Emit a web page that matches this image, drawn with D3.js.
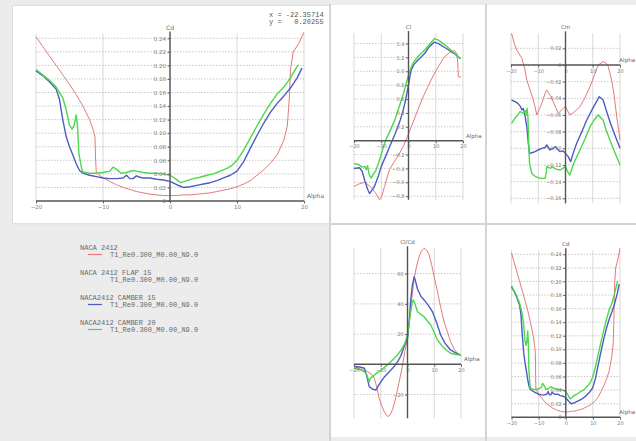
<!DOCTYPE html>
<html>
<head>
<meta charset="utf-8">
<script src="https://cdn.jsdelivr.net/npm/d3@7"></script>
<style>
  body { margin: 0; background: #ececec; }
  svg { display: block; }
</style>
</head>
<body>
<div id="chart"></div>
<script>
// alpha ticks shared by every graph
var alphaTicks = [-20, -10, 0, 10, 20];

// Legend
var polarNames = ["NACA 2412", "NACA 2412 FLAP 15", "NACA2412 CAMBER 15", "NACA2412 CAMBER 20"];
var polarSub = "T1_Re0.300_M0.00_N9.0";
var polarColors = ["#e47a7a", null, "#4e5cc2", "#4cd84c"];

// Cd vs alpha  [alpha, Cd]
var cdRed = [[-20,0.242],[-19,0.228],[-18,0.214],[-17,0.200],[-16,0.186],[-15,0.172],[-14,0.157],[-13,0.140],[-12,0.120],[-11.5,0.106],[-11.2,0.095],[-11.1,0.060],[-11,0.042],[-10,0.034],[-9,0.029],[-8,0.024],[-7,0.020],[-6,0.017],[-5,0.014],[-4,0.012],[-3,0.010],[-2,0.009],[-1,0.008],[0,0.008],[1,0.008],[2,0.009],[3,0.009],[4,0.010],[5,0.011],[6,0.012],[7,0.014],[8,0.016],[9,0.018],[10,0.021],[11,0.025],[12,0.030],[13,0.038],[14,0.046],[15,0.056],[16,0.068],[17,0.090],[17.5,0.110],[17.8,0.150],[18,0.195],[18.4,0.220],[19.2,0.232],[20,0.249]];
var cdBlue = [[-20,0.192],[-19,0.185],[-18,0.176],[-17,0.165],[-16.5,0.150],[-16,0.120],[-15.5,0.095],[-15,0.080],[-14.5,0.068],[-14,0.055],[-13.5,0.045],[-13,0.041],[-12,0.038],[-11,0.036],[-10,0.034],[-9,0.033],[-8,0.033],[-7,0.034],[-6.5,0.038],[-6,0.033],[-5.5,0.033],[-5,0.037],[-4.5,0.035],[-4,0.034],[-3,0.034],[-2,0.032],[-1,0.031],[0,0.029],[1,0.024],[2,0.020],[3,0.021],[4,0.023],[5,0.025],[6,0.027],[7,0.030],[8,0.034],[9,0.038],[10,0.044],[11,0.058],[12,0.078],[13,0.097],[14,0.115],[15,0.131],[16,0.144],[17,0.155],[18,0.167],[19,0.182],[19.7,0.196]];
var cdGreen = [[-20,0.194],[-19,0.186],[-18,0.178],[-17,0.168],[-16.5,0.160],[-16,0.152],[-15.5,0.135],[-15,0.112],[-14.6,0.106],[-14.3,0.112],[-14,0.127],[-13.8,0.110],[-13.6,0.070],[-13.2,0.048],[-13,0.043],[-12,0.041],[-11,0.041],[-10,0.042],[-9,0.044],[-8.5,0.050],[-8,0.047],[-7.3,0.041],[-6.5,0.042],[-5.5,0.045],[-5,0.044],[-4,0.042],[-3,0.041],[-2,0.041],[-1,0.040],[0,0.038],[0.8,0.033],[1.6,0.027],[2.5,0.030],[3.5,0.033],[4.5,0.035],[5.5,0.038],[6.5,0.040],[7.5,0.044],[8.5,0.048],[9.3,0.053],[10,0.060],[11,0.075],[12,0.093],[13,0.111],[14,0.128],[15,0.144],[16,0.158],[17,0.168],[18,0.182],[19,0.199],[19.2,0.201]];

// Cl vs alpha
var clRed = [[-20,-0.66],[-18,-0.62],[-16,-0.60],[-14,-0.66],[-12,-0.76],[-10.6,-0.85],[-9.8,-0.80],[-8.8,-0.66],[-7,-0.42],[-5.5,-0.32],[-4,-0.23],[-2,-0.09],[0,0.10],[2,0.30],[3.4,0.44],[5,0.60],[7,0.77],[9,0.93],[11,1.07],[13,1.20],[15,1.27],[16.9,1.30],[17.8,1.25],[18.1,1.10],[18.3,0.92],[19.3,0.92]];
var clBlue = [[-20,-0.40],[-18,-0.39],[-17,-0.44],[-16,-0.58],[-15,-0.70],[-14.3,-0.76],[-13.5,-0.72],[-12.5,-0.66],[-11,-0.50],[-10,-0.37],[-9,-0.28],[-8,-0.19],[-7,-0.09],[-6,0.00],[-5,0.09],[-4,0.19],[-3,0.30],[-2,0.43],[-1,0.60],[0,0.80],[0.5,0.92],[1,1.02],[2,1.10],[3.4,1.16],[5,1.22],[6,1.26],[7,1.32],[8,1.37],[9.5,1.42],[11,1.40],[13,1.35],[15,1.30],[17,1.25],[19.1,1.18]];
var clGreen = [[-20,-0.33],[-18.5,-0.34],[-17,-0.38],[-16,-0.37],[-15.5,-0.42],[-15,-0.36],[-14.5,-0.48],[-13.7,-0.54],[-13,-0.49],[-12,-0.43],[-11,-0.32],[-10,-0.20],[-9,-0.06],[-8,0.04],[-7,0.12],[-6,0.21],[-5,0.30],[-4,0.42],[-3,0.54],[-2,0.66],[-1,0.80],[0,0.95],[1,1.06],[2,1.14],[3.4,1.21],[5,1.27],[6,1.31],[7.5,1.38],[9.5,1.47],[11,1.45],[12,1.42],[14,1.36],[15.7,1.30],[17,1.26],[19.1,1.18]];

// Cm vs alpha
var cmRed = [[-19.8,0.038],[-18.8,0.026],[-17.9,0.018],[-16,0.008],[-15,-0.004],[-14.2,-0.018],[-13,-0.030],[-11.8,-0.042],[-10.5,-0.060],[-9.5,-0.052],[-8.7,-0.046],[-7.5,-0.034],[-6.9,-0.030],[-5,-0.040],[-3.5,-0.052],[-2.6,-0.058],[-1.5,-0.054],[-0.8,-0.052],[0,-0.050],[0.8,-0.055],[1.6,-0.060],[3,-0.057],[5.3,-0.050],[7,-0.040],[9,-0.026],[10.5,-0.013],[12,0.000],[13.8,0.004],[15,0.002],[15.7,-0.002],[16.9,-0.018],[17.8,-0.035],[18.8,-0.062],[20,-0.090]];
var cmBlue = [[-19.8,-0.042],[-18.5,-0.044],[-17.5,-0.046],[-16.5,-0.050],[-16,-0.054],[-15.5,-0.052],[-15,-0.058],[-14.2,-0.074],[-13.6,-0.095],[-13.2,-0.106],[-12,-0.105],[-11.2,-0.104],[-10,-0.102],[-8.7,-0.100],[-7.5,-0.099],[-6.9,-0.096],[-5.7,-0.102],[-4.5,-0.100],[-3.8,-0.098],[-2,-0.104],[-1,-0.103],[0,-0.106],[1,-0.110],[1.9,-0.116],[3,-0.104],[4.1,-0.094],[6,-0.080],[7.8,-0.066],[10,-0.052],[12.4,-0.038],[13.8,-0.042],[15,-0.055],[16.5,-0.070],[18,-0.083],[20,-0.100]];
var cmGreen = [[-19.8,-0.070],[-18.6,-0.064],[-17.5,-0.060],[-16.7,-0.056],[-15.5,-0.058],[-14.6,-0.055],[-14.3,-0.060],[-14.1,-0.052],[-13.8,-0.062],[-13.5,-0.095],[-13.2,-0.118],[-12.4,-0.130],[-11,-0.134],[-9.3,-0.136],[-7.5,-0.136],[-7,-0.128],[-6.9,-0.122],[-5.5,-0.124],[-5,-0.122],[-3.5,-0.125],[-2,-0.126],[-1,-0.124],[0,-0.122],[0.8,-0.128],[1.6,-0.132],[3,-0.118],[5.3,-0.102],[7,-0.090],[9,-0.074],[10.5,-0.066],[12,-0.060],[13.8,-0.066],[15,-0.079],[17,-0.096],[18.5,-0.108],[20,-0.120]];

// Cl/Cd vs alpha
var clcdRed = [[-20,-1.5],[-17,-3.5],[-14.9,-4.9],[-13.5,-6.5],[-12.4,-9.3],[-11.5,-15],[-10.6,-22.5],[-9.5,-28],[-8.7,-31.3],[-7.5,-34.6],[-6.5,-33.5],[-5.6,-30],[-4.5,-23],[-3.1,-11.5],[-2,-2],[-1,8.4],[0,17],[0.6,26],[1.5,42],[2.5,57],[3.4,65],[4.3,71],[5.2,75],[6.2,76.8],[7.2,75.5],[8.1,72.4],[9,66],[10,58],[11.2,48],[12.5,37],[13.7,28],[15,21],[16.1,15],[17.5,10],[18.6,7.3],[19.9,5.7]];
var clcdBlue = [[-20,-1.5],[-18,-1.8],[-16.1,-2.6],[-15.2,-8],[-14.3,-14.8],[-13,-16.5],[-11.8,-17],[-10.8,-14],[-9.9,-11.5],[-8.5,-8],[-6.8,-4.9],[-5,-1.5],[-3.7,1.8],[-2.5,5.5],[-1.5,10.6],[0,17.2],[0.6,28],[1.2,42.6],[1.8,52],[2.5,58],[3,55],[3.7,50],[5,45],[6.2,42.6],[7.8,39],[9.3,34.9],[10.8,28],[12.4,19.4],[14,14],[16.1,9.5],[18,7.5],[19.9,6.2]];
var clcdGreen = [[-20,-2.6],[-18,-3.5],[-16.1,-4.9],[-15.2,-7],[-14.3,-11.5],[-13.8,-9],[-13,-8.2],[-12,-6.5],[-10.6,-4.9],[-9,-2.5],[-7.5,-0.4],[-5.5,3],[-3.7,6.2],[-2.2,10],[-1,13.9],[0,19.4],[0.6,27],[1.2,34.9],[1.8,41],[2.2,42.6],[2.8,40],[3.7,34.9],[5,33],[6.2,31.5],[7.5,28.5],[8.7,26],[10,21],[11.2,16.1],[13,12],[14.5,9.5],[16.1,7.3],[18,6.5],[19.9,6.2]];

// y ticks of each graph
var cdTicks = [0, 0.02, 0.04, 0.06, 0.08, 0.10, 0.12, 0.14, 0.16, 0.18, 0.20, 0.22, 0.24];
var clTicks = [-0.8, -0.6, -0.4, -0.2, 0.2, 0.4, 0.6, 0.8, 1.0, 1.2, 1.4];
var cmTicks = [0.02, 0, -0.02, -0.04, -0.06, -0.08, -0.10, -0.12, -0.14, -0.16];
var clcdTicks = [-20, 20, 40, 60];

var W = 636, H = 441;

var svg = d3.select("#chart")
    .append("svg")
    .attr("width", W)
    .attr("height", H);

// Frames
svg.append("rect").attr("x", 0).attr("y", 0).attr("width", W).attr("height", H).attr("fill", "#ececec");
svg.append("rect").attr("x", 12.5).attr("y", 5.5).attr("width", 317).attr("height", 218)
    .attr("fill", "#fff").attr("stroke", "#dcdcdc");
svg.append("rect").attr("x", 331).attr("y", 5).attr("width", 305).attr("height", 432).attr("fill", "#fff");
svg.append("line").attr("x1", 330).attr("x2", 330).attr("y1", 4).attr("y2", H).attr("stroke", "#d4d4d4").attr("stroke-width", 2);
svg.append("line").attr("x1", 486).attr("x2", 486).attr("y1", 4).attr("y2", H).attr("stroke", "#d4d4d4").attr("stroke-width", 2);
svg.append("line").attr("x1", 331).attr("x2", W).attr("y1", 224).attr("y2", 224).attr("stroke", "#d4d4d4").attr("stroke-width", 2);
svg.append("line").attr("x1", 12).attr("x2", 331).attr("y1", 224).attr("y2", 224).attr("stroke", "#e2e2e2").attr("stroke-width", 1);

// One XFLR5 style graph
function drawGraph(cfg) {
    var g = svg.append("g");
    var x = d3.scaleLinear().domain([-20, 20]).range(cfg.xr);
    var y = d3.scaleLinear().domain(cfg.yd).range(cfg.yr);
    var fs = cfg.fs || 5;

    // grid
    g.append("g").selectAll("line").data(alphaTicks).enter().append("line")
        .attr("x1", d => x(d)).attr("x2", d => x(d))
        .attr("y1", y(cfg.yd[0])).attr("y2", y(cfg.yd[1]))
        .attr("stroke", "#cfcfcf").attr("stroke-width", 0.8);
    g.append("g").selectAll("line").data(cfg.ticks.filter(t => t !== 0)).enter().append("line")
        .attr("x1", x(-20)).attr("x2", x(20))
        .attr("y1", d => y(d)).attr("y2", d => y(d))
        .attr("stroke", "#bdbdbd").attr("stroke-width", 0.8).attr("stroke-dasharray", "1.5,1.5");

    // curves
    var line = d3.line().x(d => x(d[0])).y(d => y(d[1]));
    cfg.series.forEach(function (s) {
        g.append("path").datum(s.data)
            .attr("d", line)
            .attr("fill", "none")
            .attr("stroke", s.color)
            .attr("stroke-width", s.w)
            .attr("stroke-linejoin", "round");
    });

    // axes
    var yAxis = d3.axisLeft(y).tickValues(cfg.ticks).tickSize(2.5).tickPadding(1.5)
        .tickFormat(d => d === 0 ? "0" : cfg.fmt(d));
    var ag = g.append("g").attr("transform", `translate(${x(0)},0)`).call(yAxis);
    ag.select(".domain").remove();
    ag.selectAll("line").attr("stroke", "#666");
    ag.selectAll("text").attr("font-size", fs).attr("font-family", "DejaVu Sans").attr("fill", "#808080");
    if (!cfg.yZero) ag.selectAll(".tick").filter(d => d === 0).select("text").remove();

    var xAxis = d3.axisBottom(x).tickValues(alphaTicks).tickSize(2.5).tickPadding(1.5)
        .tickFormat(d3.format("d"));
    var bg = g.append("g").attr("transform", `translate(0,${y(0)})`).call(xAxis);
    bg.select(".domain").remove();
    bg.selectAll("line").attr("stroke", "#666");
    bg.selectAll("text").attr("font-size", fs).attr("font-family", "DejaVu Sans").attr("fill", "#808080");

    g.append("line").attr("x1", x(0)).attr("x2", x(0))
        .attr("y1", y(cfg.yd[0])).attr("y2", y(cfg.yd[1]) - 2)
        .attr("stroke", "#555").attr("stroke-width", 1.4);
    g.append("line").attr("x1", x(-20)).attr("x2", x(20))
        .attr("y1", y(0)).attr("y2", y(0))
        .attr("stroke", "#555").attr("stroke-width", 1.4);

    g.append("text").attr("x", x(0)).attr("y", y(cfg.yd[1]) - 4)
        .attr("text-anchor", "middle").attr("font-size", fs + 0.5)
        .attr("font-family", "DejaVu Sans").attr("fill", "#666").text(cfg.label);

    // "Alpha" next to the end of the x axis, pulled inside the window if needed
    var ax = x(20) + 3, anchor = "start";
    if (ax + 17 > W) { ax = W - 1; anchor = "end"; }
    g.append("text").attr("x", ax).attr("y", y(0) - 3)
        .attr("text-anchor", anchor)
        .attr("font-size", fs + 0.5).attr("font-family", "DejaVu Sans")
        .attr("fill", "#666").text("Alpha");
}

var cdSeries = [
    { data: cdRed, color: polarColors[0], w: 1 },
    { data: cdBlue, color: polarColors[2], w: 1.4 },
    { data: cdGreen, color: polarColors[3], w: 1.4 }
];

// Main Cd graph
drawGraph({ xr: [36, 304], yd: [0, 0.247], yr: [201, 201 - 0.247 * 678],
    ticks: cdTicks, fmt: d3.format(".2f"), label: "Cd", yZero: true, fs: 5.5, series: cdSeries });

// Cl
drawGraph({ xr: [354, 463], yd: [-0.85, 1.55], yr: [140.7 + 0.85 * 69.4, 140.7 - 1.55 * 69.4],
    ticks: clTicks, fmt: d3.format(".1f"), label: "Cl", yZero: false,
    series: [
        { data: clRed, color: polarColors[0], w: 1 },
        { data: clBlue, color: polarColors[2], w: 1.4 },
        { data: clGreen, color: polarColors[3], w: 1.4 }
    ] });

// Cm
drawGraph({ xr: [511, 620], yd: [-0.166, 0.038], yr: [65 + 0.166 * 833.3, 65 - 0.038 * 833.3],
    ticks: cmTicks, fmt: d3.format(".2f"), label: "Cm", yZero: true,
    series: [
        { data: cmRed, color: polarColors[0], w: 1 },
        { data: cmBlue, color: polarColors[2], w: 1.4 },
        { data: cmGreen, color: polarColors[3], w: 1.4 }
    ] });

// Cl/Cd
drawGraph({ xr: [354, 461], yd: [-35.7, 76.8], yr: [364.3 + 35.7 * 1.511, 364.3 - 76.8 * 1.511],
    ticks: clcdTicks, fmt: d3.format("d"), label: "Cl/Cd", yZero: false,
    series: [
        { data: clcdRed, color: polarColors[0], w: 1 },
        { data: clcdBlue, color: polarColors[2], w: 1.4 },
        { data: clcdGreen, color: polarColors[3], w: 1.4 }
    ] });

// Cd (small)
drawGraph({ xr: [511.5, 620], yd: [0, 0.246], yr: [417.3, 417.3 - 0.246 * 679.2],
    ticks: cdTicks, fmt: d3.format(".2f"), label: "Cd", yZero: true, series: cdSeries });

// Cursor readout
var readout = svg.append("g").attr("font-family", "Liberation Mono").attr("font-size", 7).attr("fill", "#555");
readout.append("text").attr("x", 269).attr("y", 17).attr("xml:space", "preserve").text("x = -22.35714");
readout.append("text").attr("x", 269).attr("y", 24).attr("xml:space", "preserve").text("y =   0.20255");

// Legend
var legend = svg.append("g").attr("font-family", "Liberation Mono").attr("font-size", 7).attr("fill", "#6a6a6a");
polarNames.forEach(function (name, i) {
    var y0 = 250 + i * 25;
    legend.append("text").attr("x", 80).attr("y", y0).text(name);
    legend.append("text").attr("x", 110).attr("y", y0 + 6.5).text(polarSub);
    if (polarColors[i]) {
        legend.append("line").attr("x1", 88).attr("x2", 102)
            .attr("y1", y0 + 4.5).attr("y2", y0 + 4.5)
            .attr("stroke", polarColors[i]).attr("stroke-width", 1.2);
    }
});
</script>
</body>
</html>
